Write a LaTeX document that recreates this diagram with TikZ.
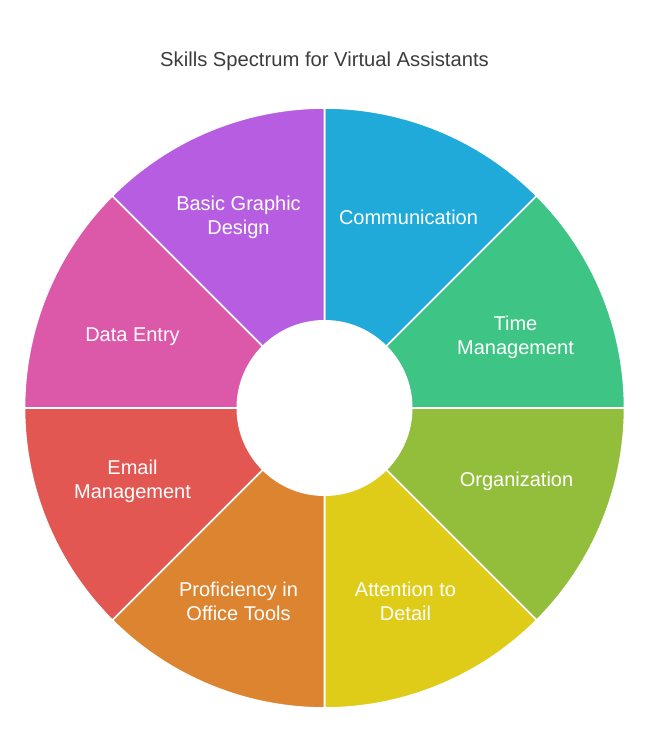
\documentclass[tikz,border=0pt]{standalone}
\usepackage{fontspec}
\setmainfont{Liberation Sans}
\usetikzlibrary{calc}
\definecolor{commblue}{HTML}{20AAD9}
\definecolor{timegreen}{HTML}{3EC484}
\definecolor{orgolive}{HTML}{93BE3C}
\definecolor{detyellow}{HTML}{DECC18}
\definecolor{offorange}{HTML}{DD8430}
\definecolor{mailred}{HTML}{E35752}
\definecolor{datapink}{HTML}{DC58A8}
\definecolor{designpurple}{HTML}{B65DE2}
\definecolor{titlegray}{HTML}{3C3C3C}
\begin{document}
\begin{tikzpicture}[x=1pt,y=1pt]
            \tikzset{
	wedge/.style={draw=white,line width=1.6pt,line join=round},
	skill/.style={text=white,align=center,font=\fontsize{20}{24}\selectfont},
	heading/.style={text=titlegray,font=\fontsize{20.2}{24}\selectfont}
}
\useasboundingbox (0,0) rectangle (649,756);
\coordinate (c) at (324.5,348);

\node[heading] (title) at (324.5,694.5) {Skills Spectrum for Virtual Assistants};

\foreach \a/\col/\dx/\dy/\txt/\nm in {
	90/commblue/84/191/Communication/comm,
	45/timegreen/191/71/{Time\\Management}/time,
	0/orgolive/192/-73/Organization/org,
	-45/detyellow/81/-193/{Attention to\\Detail}/detail,
	-90/offorange/-86/-193/{Proficiency in\\Office Tools}/office,
	-135/mailred/-192/-73/{Email\\Management}/mail,
	180/datapink/-192/71/Data Entry/data,
	135/designpurple/-86/191/{Basic Graphic\\Design}/design}
{
	\filldraw[wedge,fill=\col] (c) -- ++(\a:300) arc[start angle=\a,end angle=\a-45,radius=300] -- cycle;
	\node[skill] (\nm) at ($(c)+(\dx,\dy)$) {\txt};
}

\fill[white] (c) circle[radius=88];
        \end{tikzpicture}
\end{document}
